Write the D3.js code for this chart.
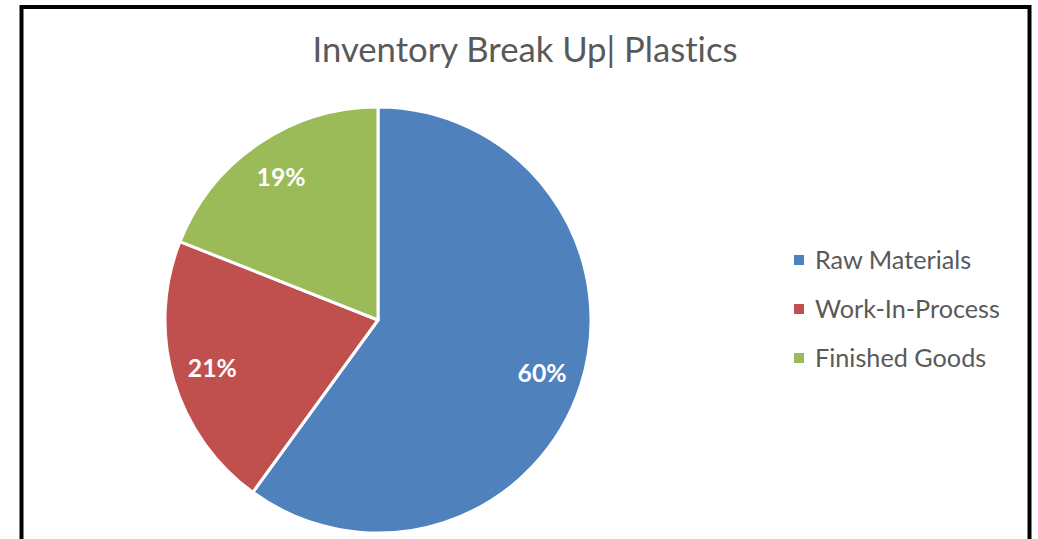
<!DOCTYPE html>
<html>
<head>
<meta charset="utf-8">
<script src="https://cdn.jsdelivr.net/npm/d3@7"></script>
<style>
  html, body { margin: 0; padding: 0; background: #fff; }
  svg { display: block; }
  text { font-variant-ligatures: none; font-feature-settings: "liga" 0; }
</style>
</head>
<body>
<svg id="chart" width="1038" height="539"></svg>
<script>
// Inventory composition for the plastics division
const categories = ["Raw Materials", "Work-In-Process", "Finished Goods"];
const shares = [60, 21, 19];
const sliceColors = ["#4F81BD", "#C0504D", "#9BBB59"];
const chartTitle = "Inventory Break Up| Plastics";

const svg = d3.select("#chart");
const FONT = "Lato, 'Open Sans', 'Liberation Sans', sans-serif";

// Scale a text element's font size so it spans the given width
function fitWidth(sel, target) {
  const node = sel.node();
  const fs = parseFloat(sel.attr("font-size"));
  const w = node.getComputedTextLength();
  if (w > 0) sel.attr("font-size", (fs * target / w).toFixed(2));
  return sel;
}

// Chart frame
svg.append("rect")
  .attr("x", 21.5).attr("y", 7)
  .attr("width", 1008).attr("height", 600)
  .attr("fill", "#fff")
  .attr("stroke", "#000")
  .attr("stroke-width", 4);

// Title
const title = svg.append("text")
  .attr("x", 525).attr("y", 62)
  .attr("text-anchor", "middle")
  .attr("font-family", FONT)
  .attr("font-size", 30)
  .attr("fill", "#595959")
  .text(chartTitle);
fitWidth(title, 425);

// Pie
const cx = 378, cy = 320, radius = 213;
const pie = d3.pie().sort(null).value(d => d.value);
const arcs = pie(categories.map((c, i) => ({ name: c, value: shares[i], color: sliceColors[i] })));
const arc = d3.arc().innerRadius(0).outerRadius(radius);
const labelArc = d3.arc().innerRadius(radius * 0.81).outerRadius(radius * 0.81);

const g = svg.append("g").attr("transform", `translate(${cx},${cy})`);
g.selectAll("path.slice")
  .data(arcs)
  .join("path")
  .attr("class", "slice")
  .attr("d", arc)
  .attr("fill", d => d.data.color)
  .attr("stroke", "#fff")
  .attr("stroke-width", 3)
  .attr("stroke-linejoin", "round");

const total = d3.sum(shares);
g.selectAll("text.pct")
  .data(arcs)
  .join("text")
  .attr("class", "pct")
  .attr("transform", d => `translate(${labelArc.centroid(d)})`)
  .attr("text-anchor", "middle")
  .attr("dy", "0.36em")
  .attr("font-family", FONT)
  .attr("font-weight", "bold")
  .attr("font-size", 22)
  .attr("fill", "#fff")
  .text(d => d3.format(".0%")(d.data.value / total))
  .each(function () { fitWidth(d3.select(this), 49); });

// Legend
const legendY = d3.scalePoint().domain(categories).range([260, 358]);
const legend = svg.append("g");
const items = legend.selectAll("g.item")
  .data(categories)
  .join("g")
  .attr("class", "item")
  .attr("transform", d => `translate(794,${legendY(d)})`);
items.append("rect")
  .attr("x", 0).attr("y", -5)
  .attr("width", 10).attr("height", 10)
  .attr("fill", (d, i) => sliceColors[i]);
const legendTexts = items.append("text")
  .attr("x", 21).attr("dy", "0.35em")
  .attr("font-family", FONT)
  .attr("font-size", 22)
  .attr("fill", "#595959")
  .text(d => d);
// Size legend text from the widest entry's width
const widest = d3.select(legendTexts.nodes()[1]);
fitWidth(widest, 185);
legendTexts.attr("font-size", widest.attr("font-size"));
</script>
</body>
</html>
